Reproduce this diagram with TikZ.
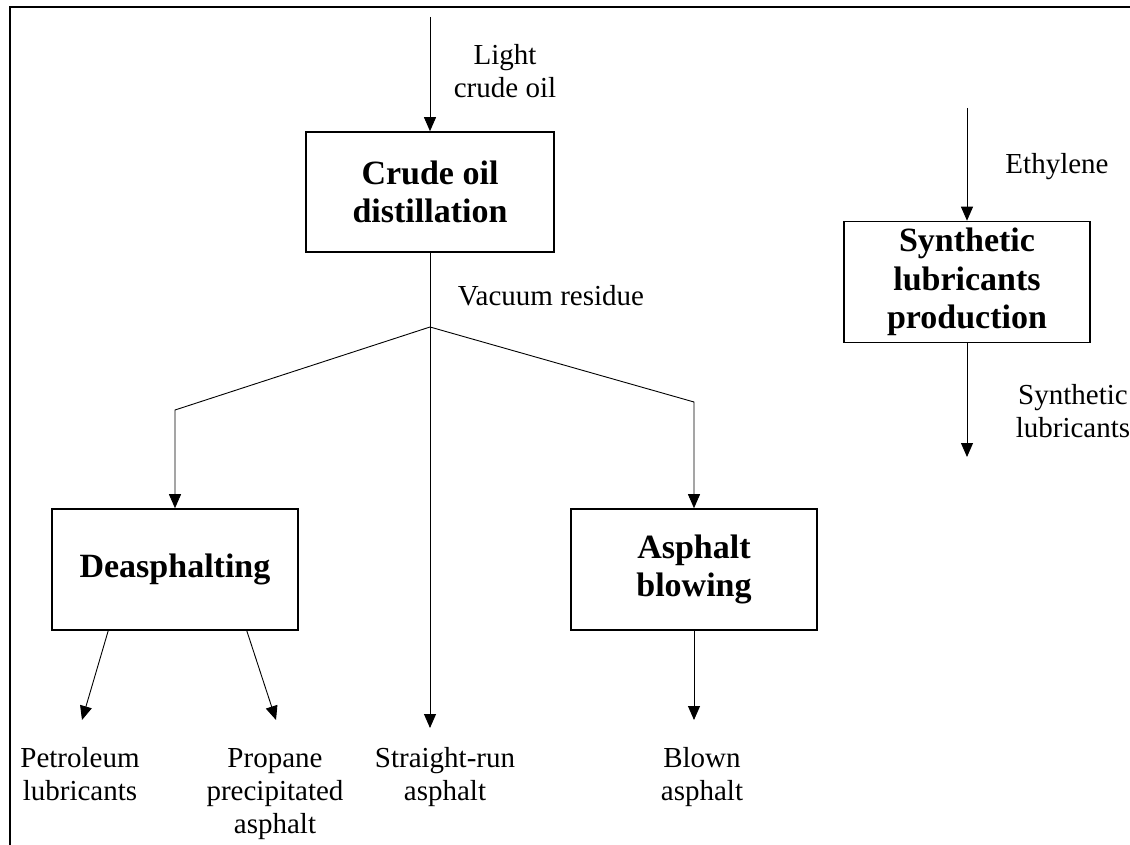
\documentclass[tikz,border=0pt]{standalone}
\usepackage{fontspec}
\setmainfont{Liberation Serif}
\usetikzlibrary{arrows.meta}
\begin{document}
\begin{tikzpicture}[x=1pt,y=-1pt,
  every node/.style={inner sep=0pt},
  procbox/.style={draw,line width=1.6pt,minimum width=246pt,minimum height=121pt,align=center,font=\fontsize{34}{38.5}\selectfont\bfseries},
  lbl/.style={align=center,font=\fontsize{29}{33}\selectfont},
  conn/.style={line width=0.9pt},
  arr/.style={conn,-{Triangle[length=14pt,width=12pt]}}]
\useasboundingbox (0,0) rectangle (1130,845);
\draw[line width=2pt] (9.5,845) -- (9.5,7) -- (1130,7);

% boxes
\node[procbox,minimum width=248pt,minimum height=120pt] (crude) at (430,192) {Crude oil\\distillation};
\node[procbox] (synth) at (967,282) {Synthetic\\lubricants\\production};
\node[procbox] (deas) at (175,569.5) {Deasphalting};
\node[procbox] (blow) at (694,569.5) {Asphalt\\blowing};

% labels
\node[lbl] (light) at (505,71) {Light\\crude oil};
\node[lbl] (eth) at (1057,167) {Ethylene};
\node[lbl] (vac) at (551,296) {Vacuum residue};
\node[lbl] (synlub) at (1073,411) {Synthetic\\lubricants};
\node[lbl] (petlub) at (80,774) {Petroleum\\lubricants};
\node[lbl] (prop) at (275,794) {Propane\\precipitated\\asphalt};
\node[lbl] (straight) at (445,777) {Straight-run\\asphalt};
\node[lbl] (blown) at (702,777) {Blown\\asphalt};

% coordinates
\coordinate (crudein) at (430,17);
\coordinate (ethin) at (967,108);
\coordinate (synout) at (967,457);
\coordinate (J) at (430,327);
\coordinate (L) at (175,410);
\coordinate (R) at (694,402);
\coordinate (srtip) at (430,728);
\coordinate (blowtip) at (694,720);
\coordinate (pettip) at (82,720);
\coordinate (proptip) at (276,720);

% connectors
\draw[arr] (crudein) -- (crude.north);
\draw[arr] (ethin) -- (synth.north);
\draw[arr] (synth.south) -- (synout);
\draw[conn] (crude.south) -- (J);
\draw[arr] (J) -- (L) -- (deas.north);
\draw[arr] (J) -- (R) -- (blow.north);
\draw[arr] (J) -- (srtip);
\draw[arr] (blow.south) -- (blowtip);
\draw[arr] ([xshift=57pt]deas.south west) -- (pettip);
\draw[arr] ([xshift=-52pt]deas.south east) -- (proptip);
\end{tikzpicture}
\end{document}
